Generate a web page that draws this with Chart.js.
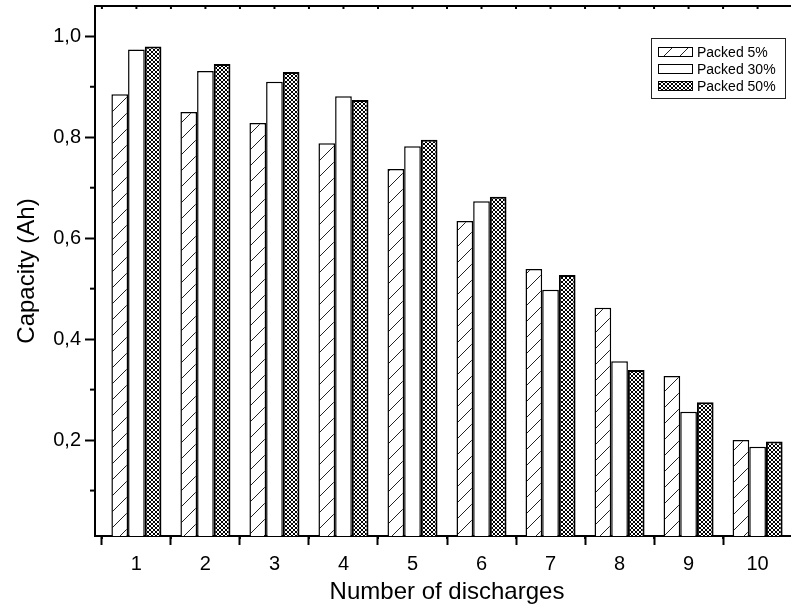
<!DOCTYPE html>
<html>
<head>
<meta charset="utf-8">
<script src="https://cdn.jsdelivr.net/npm/chart.js@4.4.1/dist/chart.umd.min.js"></script>
<style>
  html, body { margin: 0; padding: 0; background: #fff; overflow: hidden; }
  #wrap { width: 810px; height: 611px; position: relative; }
</style>
</head>
<body>
<div id="wrap"><canvas id="capChart"></canvas></div>
<script>
// discharge number on x, capacity in Ah on y
const discharges = [1, 2, 3, 4, 5, 6, 7, 8, 9, 10];
const packed5  = [0.885, 0.850, 0.828, 0.788, 0.737, 0.634, 0.539, 0.462, 0.327, 0.200];
const packed30 = [0.974, 0.931, 0.910, 0.881, 0.782, 0.673, 0.498, 0.356, 0.256, 0.187];
const packed50 = [0.980, 0.945, 0.929, 0.874, 0.795, 0.682, 0.527, 0.339, 0.275, 0.197];
const seriesLabels = ['Packed 5%', 'Packed 30%', 'Packed 50%'];
const yTickValues = [0.2, 0.4, 0.6, 0.8, 1.0];
const yMinorValues = [0.1, 0.3, 0.5, 0.7, 0.9];

const FONT = '"Liberation Sans", Arial, sans-serif';

function hatchPattern() {
  const c = document.createElement('canvas');
  c.width = 16; c.height = 16;
  const g = c.getContext('2d');
  g.fillStyle = '#fff';
  g.fillRect(0, 0, 16, 16);
  g.strokeStyle = '#222';
  g.lineWidth = 1;
  g.beginPath();
  g.moveTo(-2, 18); g.lineTo(18, -2);
  g.stroke();
  return g.createPattern(c, 'repeat');
}

function crossPattern() {
  const c = document.createElement('canvas');
  c.width = 4; c.height = 4;
  const g = c.getContext('2d');
  g.fillStyle = '#fff';
  g.fillRect(0, 0, 4, 4);
  g.strokeStyle = '#000';
  g.lineWidth = 1;
  g.beginPath();
  g.moveTo(0, 0); g.lineTo(4, 4);
  g.moveTo(0, 4); g.lineTo(4, 0);
  g.stroke();
  return g.createPattern(c, 'repeat');
}

const fills = [hatchPattern(), '#ffffff', crossPattern()];
const borders = [1.5, 1.5, 2];

function toPoints(vals) {
  return discharges.map((d, i) => ({x: d, y: vals[i]}));
}

// frame, minor ticks and boxed legend (Origin style)
const decor = {
  id: 'decor',
  afterDraw(chart) {
    const {ctx, chartArea: a, scales: {x, y}} = chart;
    ctx.save();
    ctx.strokeStyle = '#000';
    ctx.lineWidth = 2;
    const seg = (x1, y1, x2, y2) => { ctx.beginPath(); ctx.moveTo(x1, y1); ctx.lineTo(x2, y2); ctx.stroke(); };

    seg(a.left - 1, a.top, a.right + 1, a.top);
    seg(a.right, a.top, a.right, a.bottom);

    yMinorValues.forEach(v => {
      const py = y.getPixelForValue(v);
      seg(a.left - 5, py, a.left, py);
    });
    for (let v = 0.5; v <= 10.5; v += 0.5) {
      const px = x.getPixelForValue(v);
      seg(px, a.top, px, a.top + 3);
      if (v % 1 !== 0) seg(px, a.bottom, px, a.bottom + 3);
    }

    // legend
    const lx = 651, ly = 38, lw = 134, lh = 60;
    ctx.fillStyle = '#fff';
    ctx.fillRect(lx, ly, lw, lh);
    ctx.lineWidth = 1;
    ctx.strokeStyle = '#222';
    ctx.strokeRect(lx + 0.5, ly + 0.5, lw, lh);
    ctx.font = '14px ' + FONT;
    ctx.textBaseline = 'middle';
    ctx.textAlign = 'left';
    chart.data.datasets.forEach((ds, i) => {
      const cy = 52 + i * 17;
      ctx.fillStyle = ds.backgroundColor;
      ctx.fillRect(658, cy - 4, 34, 8);
      ctx.lineWidth = 1;
      ctx.strokeStyle = '#000';
      ctx.strokeRect(658.5, cy - 4.5, 34, 9);
      ctx.fillStyle = '#000';
      ctx.fillText(ds.label, 697, cy + 1);
    });
    ctx.restore();
  }
};

new Chart(document.getElementById('capChart'), {
  type: 'bar',
  data: {
    datasets: [packed5, packed30, packed50].map((vals, i) => ({
      label: seriesLabels[i],
      data: toPoints(vals),
      backgroundColor: fills[i],
      borderColor: '#000',
      borderWidth: borders[i],
      borderSkipped: false,
      categoryPercentage: 0.725,
      barPercentage: 1.0
    }))
  },
  options: {
    responsive: true,
    maintainAspectRatio: false,
    animation: false,
    layout: { padding: { top: 6, right: 11, left: 0, bottom: 0 } },
    plugins: {
      legend: { display: false },
      tooltip: { enabled: false }
    },
    scales: {
      x: {
        type: 'linear',
        offset: false,
        min: 0.4,
        max: 10.6,
        afterBuildTicks: s => { s.ticks = discharges.map(v => ({value: v})); },
        afterFit: s => { s.height = 75; s.paddingLeft = 0; s.paddingRight = 0; },
        grid: { drawOnChartArea: false, drawTicks: true, tickLength: 9, tickWidth: 2, tickColor: '#000' },
        border: { display: true, color: '#000', width: 2 },
        ticks: { color: '#000', font: { family: FONT, size: 20 }, padding: 7, maxRotation: 0 },
        title: {
          display: true, text: 'Number of discharges', color: '#000',
          font: { family: FONT, size: 24 }, padding: { top: 0, bottom: 4 }
        }
      },
      y: {
        min: 0.01,
        max: 1.06,
        afterBuildTicks: s => { s.ticks = yTickValues.map(v => ({value: v})); },
        afterFit: s => { s.width = 95; s.paddingTop = 0; s.paddingBottom = 0; },
        grid: { drawOnChartArea: false, drawTicks: true, tickLength: 10, tickWidth: 2, tickColor: '#000' },
        border: { display: true, color: '#000', width: 2 },
        ticks: {
          color: '#000', font: { family: FONT, size: 20 }, padding: 4,
          callback: v => v.toFixed(1).replace('.', ',')
        },
        title: {
          display: true, text: 'Capacity (Ah)', color: '#000',
          font: { family: FONT, size: 24 }, padding: { top: 13, bottom: 0 }
        }
      }
    }
  },
  plugins: [decor]
});
</script>
</body>
</html>
